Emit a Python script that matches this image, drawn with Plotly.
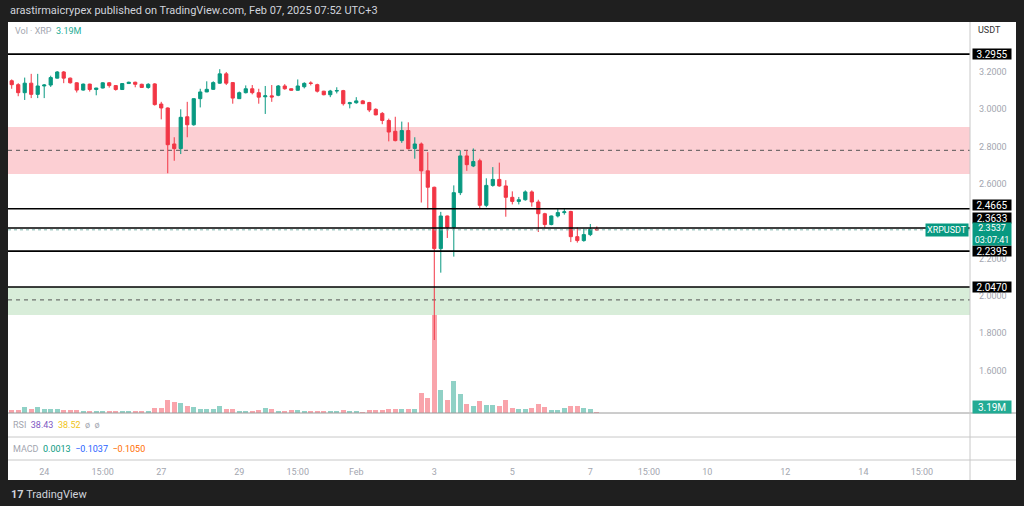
import plotly.graph_objects as go
import pandas as pd

W, H = 1024, 506

# ---------------- data (XRPUSDT, 4h candles) ----------------
first_candle = "2025-01-23 07:00"
opens = [3.153, 3.132, 3.089, 3.140, 3.080, 3.125, 3.130, 3.167, 3.200, 3.167,
         3.142, 3.103, 3.135, 3.106, 3.114, 3.142, 3.127, 3.106, 3.138, 3.145,
         3.134, 3.117, 3.136, 3.028, 3.007, 2.814, 2.789, 2.960, 2.917, 3.057,
         3.093, 3.107, 3.140, 3.190, 3.143, 3.057, 3.089, 3.110, 3.089, 3.067,
         3.072, 3.075, 3.125, 3.110, 3.102, 3.121, 3.141, 3.132, 3.097, 3.078,
         3.098, 3.100, 3.030, 3.035, 3.045, 3.036, 3.000, 2.978, 2.940, 2.882,
         2.832, 2.886, 2.790, 2.814, 2.670, 2.582, 2.253, 2.428, 2.367, 2.553,
         2.750, 2.696, 2.724, 2.485, 2.592, 2.624, 2.589, 2.528, 2.506, 2.515,
         2.557, 2.503, 2.440, 2.382, 2.428, 2.446, 2.452, 2.317, 2.296, 2.328,
         2.357]
highs = [3.160, 3.140, 3.170, 3.190, 3.190, 3.135, 3.180, 3.205, 3.205, 3.170,
         3.145, 3.138, 3.137, 3.115, 3.145, 3.146, 3.130, 3.140, 3.148, 3.148,
         3.137, 3.140, 3.140, 3.040, 3.010, 2.850, 3.000, 3.040, 3.058, 3.110,
         3.150, 3.150, 3.215, 3.200, 3.146, 3.095, 3.128, 3.130, 3.110, 3.125,
         3.130, 3.130, 3.135, 3.112, 3.160, 3.145, 3.150, 3.137, 3.099, 3.104,
         3.118, 3.104, 3.040, 3.065, 3.050, 3.040, 3.005, 2.985, 2.950, 2.960,
         2.934, 2.930, 2.850, 2.822, 2.770, 2.585, 2.450, 2.430, 2.592, 2.780,
         2.780, 2.790, 2.735, 2.630, 2.690, 2.714, 2.620, 2.560, 2.530, 2.565,
         2.565, 2.515, 2.445, 2.430, 2.465, 2.468, 2.456, 2.367, 2.360, 2.385,
         2.372]
lows = [3.110, 3.070, 3.050, 3.060, 3.060, 3.060, 3.120, 3.165, 3.140, 3.138,
        3.090, 3.100, 3.095, 3.075, 3.112, 3.116, 3.100, 3.104, 3.136, 3.118,
        3.114, 3.110, 3.020, 2.946, 2.657, 2.724, 2.760, 2.850, 2.912, 3.010,
        3.092, 3.104, 3.137, 3.130, 3.030, 3.055, 3.085, 3.080, 3.030, 2.975,
        3.040, 3.070, 3.105, 3.100, 3.100, 3.112, 3.128, 3.090, 3.075, 3.065,
        3.085, 3.020, 3.005, 3.030, 3.028, 2.985, 2.968, 2.920, 2.828, 2.828,
        2.820, 2.785, 2.735, 2.500, 2.464, 1.763, 2.124, 2.310, 2.210, 2.540,
        2.670, 2.690, 2.470, 2.475, 2.585, 2.585, 2.424, 2.490, 2.490, 2.510,
        2.478, 2.342, 2.365, 2.378, 2.420, 2.435, 2.288, 2.285, 2.290, 2.320,
        2.350]
closes = [3.132, 3.089, 3.140, 3.080, 3.125, 3.130, 3.170, 3.200, 3.167, 3.142,
          3.103, 3.135, 3.106, 3.114, 3.142, 3.127, 3.106, 3.138, 3.145, 3.134,
          3.117, 3.134, 3.025, 3.007, 2.810, 2.789, 2.957, 2.917, 3.057, 3.093,
          3.107, 3.143, 3.190, 3.140, 3.060, 3.089, 3.110, 3.089, 3.065, 3.072,
          3.066, 3.125, 3.110, 3.102, 3.125, 3.139, 3.139, 3.097, 3.078, 3.098,
          3.100, 3.030, 3.035, 3.045, 3.030, 2.996, 2.970, 2.940, 2.878, 2.832,
          2.886, 2.789, 2.814, 2.670, 2.582, 2.253, 2.428, 2.367, 2.553, 2.750,
          2.703, 2.720, 2.485, 2.592, 2.624, 2.589, 2.528, 2.506, 2.515, 2.557,
          2.503, 2.440, 2.382, 2.428, 2.446, 2.450, 2.317, 2.296, 2.328, 2.357,
          2.3537]
volumes_m = [9.6, 9.6, 19.2, 12.8, 19.2, 13.8, 13.8, 13.8, 9.6, 9.6,
             9.6, 6.4, 7.4, 7.4, 7.4, 6.4, 5.4, 5.4, 5.4, 5.4,
             5.4, 5.4, 15.0, 17.0, 42.6, 34.2, 33.0, 22.4, 18.2, 11.8,
             11.8, 11.8, 22.4, 12.8, 13.8, 6.4, 6.4, 7.4, 9.6, 17.0,
             13.8, 6.4, 7.4, 9.6, 8.6, 7.4, 6.4, 6.4, 5.4, 6.4,
             6.4, 9.6, 5.4, 5.4, 3.2, 9.6, 8.6, 8.6, 13.8, 13.8,
             12.8, 11.8, 12.8, 64.0, 47.0, 313.6, 73.6, 41.6, 102.4, 60.8,
             28.8, 21.4, 37.4, 24.6, 26.6, 21.4, 41.6, 17.0, 12.8, 12.8,
             17.0, 28.8, 19.2, 10.6, 10.6, 15.0, 23.4, 23.4, 17.0, 12.8,
             3.19]

level_prices = [3.2955, 2.4665, 2.3633, 2.2395, 2.0470]
last_price = 2.3537
supply_zone = (2.653, 2.905, 2.780)   # bottom, top, mid
demand_zone = (1.897, 2.047, 1.978)

# 2.4000 is fully hidden behind the level labels in the reference, so it is not drawn
price_ticks = [1.6, 1.8, 2.0, 2.2, 2.6, 2.8, 3.0, 3.2]
time_tick_dates = ["2025-01-24 03:00", "2025-01-25 15:00", "2025-01-27 03:00",
                   "2025-01-29 03:00", "2025-01-30 15:00", "2025-02-01 03:00",
                   "2025-02-03 03:00", "2025-02-05 03:00", "2025-02-07 03:00",
                   "2025-02-08 15:00", "2025-02-10 03:00", "2025-02-12 03:00",
                   "2025-02-14 03:00", "2025-02-15 15:00"]
time_tick_labels = ["24", "15:00", "27", "29", "15:00", "Feb", "3", "5", "7",
                    "15:00", "10", "12", "14", "15:00"]

# ---------------- styling ----------------
GREEN = "#089981"
RED = "#f23645"
DARK = "#1f1f1f"
FONT = "Roboto"
STEP = pd.Timedelta(hours=4)

times = pd.date_range(first_candle, periods=len(opens), freq="4h")
vol_colors = ["rgba(8,153,129,0.45)" if c >= o else "rgba(242,54,69,0.45)"
              for o, c in zip(opens, closes)]

def py(px):  # pixel row -> paper y
    return 1 - px / H

def px_(x):  # pixel col -> paper x
    return x / W

fig = go.Figure()
fig.add_trace(go.Bar(x=times, y=volumes_m, marker=dict(color=vol_colors, line=dict(width=0)),
                     width=0.82 * 4 * 3600 * 1000, xaxis="x", yaxis="y",
                     hoverinfo="skip", showlegend=False))
fig.add_trace(go.Candlestick(x=times, open=opens, high=highs, low=lows, close=closes,
                             increasing=dict(line=dict(color=GREEN, width=1), fillcolor=GREEN),
                             decreasing=dict(line=dict(color=RED, width=1), fillcolor=RED),
                             whiskerwidth=0, xaxis="x", yaxis="y2", showlegend=False))

x0 = times[0] - 0.57 * STEP
x1 = times[0] + 147.4 * STEP
pane_dom = [py(413), py(22)]
p_lo, p_hi = 1.3716, 3.468
vmax = max(volumes_m) * 391 / 98

shapes = []
# white chart frame
shapes.append(dict(type="rect", xref="paper", yref="paper", x0=px_(8), x1=px_(1016),
                   y0=py(480), y1=py(22), fillcolor="white", line=dict(width=0), layer="below"))
# zones
for (lo, hi, mid), fill in [(supply_zone, "rgba(242,54,69,0.24)"),
                            (demand_zone, "rgba(76,175,80,0.22)")]:
    shapes.append(dict(type="rect", xref="x", yref="y2", x0=x0, x1=x1, y0=lo, y1=hi,
                       fillcolor=fill, line=dict(width=0), layer="below"))
    shapes.append(dict(type="line", xref="x", yref="y2", x0=x0, x1=x1, y0=mid, y1=mid,
                       line=dict(color="#555555", width=1, dash="4px,4px"), layer="below"))
# horizontal levels
for lv in level_prices:
    shapes.append(dict(type="line", xref="x", yref="y2", x0=x0, x1=x1, y0=lv, y1=lv,
                       line=dict(color="#000000", width=1.6), layer="above"))
# last price line
shapes.append(dict(type="line", xref="x", yref="y2", x0=x0, x1=x1, y0=last_price, y1=last_price,
                   line=dict(color="#7fb5ad", width=1, dash="dot"), layer="above"))
# pane separators
for yy, col in [(413, "#9a9a9a"), (437, "#c8c8c8"), (460, "#c8c8c8")]:
    shapes.append(dict(type="line", xref="paper", yref="paper", x0=px_(8), x1=px_(1016),
                       y0=py(yy), y1=py(yy), line=dict(color=col, width=1)))
shapes.append(dict(type="line", xref="paper", yref="paper", x0=px_(970), x1=px_(970),
                   y0=py(480), y1=py(22), line=dict(color="#c8c8c8", width=1)))

ann = []
ann.append(dict(x=px_(8), y=py(11), xref="paper", yref="paper", xanchor="left", yanchor="middle",
                text="arastirmaicrypex published on TradingView.com, Feb 07, 2025 07:52 UTC+3",
                showarrow=False, font=dict(family=FONT, size=11, color="#d1d4dc")))
ann.append(dict(x=px_(13), y=py(31), xref="paper", yref="paper", xanchor="left", yanchor="middle",
                text="Vol · XRP  <span style='color:#22ab94'>3.19M</span>",
                showarrow=False, font=dict(family=FONT, size=9, color="#a3a6af")))
ann.append(dict(x=px_(11), y=py(425), xref="paper", yref="paper", xanchor="left", yanchor="middle",
                text="RSI  <span style='color:#7e57c2'>38.43</span>  <span style='color:#f0c419'>38.52</span>  ø  ø",
                showarrow=False, font=dict(family=FONT, size=9, color="#a3a6af")))
ann.append(dict(x=px_(11), y=py(449), xref="paper", yref="paper", xanchor="left", yanchor="middle",
                text="MACD  <span style='color:#089981'>0.0013</span>  <span style='color:#2962ff'>−0.1037</span>  <span style='color:#ff6d00'>−0.1050</span>",
                showarrow=False, font=dict(family=FONT, size=9, color="#a3a6af")))
ann.append(dict(x=px_(989), y=py(30), xref="paper", yref="paper", xanchor="center", yanchor="middle",
                text="USDT", showarrow=False, font=dict(family=FONT, size=9, color="#333333")))

label_shift = {3.2955: 0, 2.4665: 4, 2.3633: 10, 2.2395: 0, 2.0470: 0}
for lv in level_prices:
    ann.append(dict(x=px_(972), y=lv, xref="paper", yref="y2", xanchor="left", yanchor="middle",
                    yshift=label_shift[lv], text=f"{lv:.4f}", showarrow=False, width=38, height=10,
                    align="center", valign="middle", bgcolor="#000000", borderpad=0,
                    font=dict(family=FONT, size=10, color="#ffffff")))
ann.append(dict(x=px_(972), y=last_price, xref="paper", yref="y2", xanchor="left", yanchor="middle",
                yshift=-4, text=f"{last_price:.4f}<br>03:07:41",
                showarrow=False, width=38, height=22, align="center", valign="middle",
                bgcolor="#089981", borderpad=0,
                font=dict(family=FONT, size=9, color="#ffffff")))
ann.append(dict(x=px_(969), y=last_price, xref="paper", yref="y2", xanchor="right", yanchor="middle",
                yshift=0, text="XRPUSDT", showarrow=False, height=10, bgcolor="#089981", borderpad=1,
                font=dict(family=FONT, size=9, color="#ffffff")))
ann.append(dict(x=px_(972), y=py(407), xref="paper", yref="paper", xanchor="left", yanchor="middle",
                text="3.19M", showarrow=False, width=38, height=12, align="center", bgcolor="#22ab94",
                borderpad=0, font=dict(family=FONT, size=10, color="#ffffff")))
ann.append(dict(x=px_(9), y=py(494), xref="paper", yref="paper", xanchor="left", yanchor="middle",
                text="<b>17</b> TradingView", showarrow=False,
                font=dict(family=FONT, size=11, color="#d1d4dc")))

fig.update_layout(
    width=W, height=H,
    margin=dict(l=0, r=0, t=0, b=0),
    paper_bgcolor=DARK, plot_bgcolor="rgba(0,0,0,0)",
    showlegend=False, bargap=0,
    shapes=shapes, annotations=ann,
    xaxis=dict(domain=[px_(8), px_(970)], range=[x0, x1], type="date",
               anchor="free", position=py(460),
               tickvals=pd.to_datetime(time_tick_dates), ticktext=time_tick_labels,
               tickfont=dict(family=FONT, size=9, color="#a3a6af"),
               ticks="", ticklabelstandoff=5, showgrid=False, zeroline=False, showline=False,
               rangeslider=dict(visible=False), fixedrange=True),
    yaxis=dict(domain=pane_dom, range=[0, vmax], visible=False, fixedrange=True),
    yaxis2=dict(domain=pane_dom, range=[p_lo, p_hi], overlaying="y", side="right", anchor="x",
                tickvals=price_ticks, ticktext=[f"{t:.4f}" for t in price_ticks],
                tickfont=dict(family=FONT, size=9, color="#a3a6af"),
                ticks="", ticklabelstandoff=8, showgrid=False, zeroline=False, showline=False,
                fixedrange=True),
)

fig.write_html("out.html", config=dict(displayModeBar=False))
